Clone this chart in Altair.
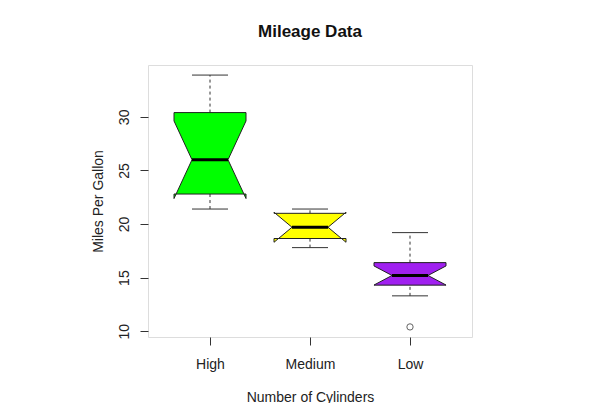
import altair as alt
import pandas as pd

# ---- data ----
groups = ["High", "Medium", "Low"]
positions = [1, 2, 3]
colors = ["#00ff00", "#ffff00", "#a020f0"]
whisker_low = [21.4, 17.8, 13.3]
q1 = [22.8, 18.65, 14.3]
notch_low = [22.38, 18.30, 14.31]
median = [26.0, 19.7, 15.2]
notch_high = [29.62, 21.10, 16.09]
q3 = [30.4, 21.0, 16.4]
whisker_high = [33.9, 21.4, 19.2]
outlier_group = ["Low"]
outlier_value = [10.4]

# ---- geometry constants (style) ----
HW = 0.36      # box half width
NF = 0.5       # notch fraction
SW = 0.18      # staple half width

rows = []
for g, p, a, b, c, d, e in zip(groups, positions, q1, notch_low, median, notch_high, q3):
    ys = [a, b, c, d, e, e, d, c, b, a, a]
    fs = [-1, -1, -NF, -1, -1, 1, 1, NF, 1, 1, -1]
    for i, (yv, f) in enumerate(zip(ys, fs)):
        rows.append({"group": g, "ord": i, "y": yv, "x": p + HW * f})
box_df = pd.DataFrame(rows)

stats_df = pd.DataFrame({
    "group": groups, "pos": positions, "q1": q1, "med": median, "q3": q3,
    "wlo": whisker_low, "whi": whisker_high,
})
stats_df["ml"] = stats_df["pos"] - HW * NF
stats_df["mr"] = stats_df["pos"] + HW * NF
stats_df["sl"] = stats_df["pos"] - SW
stats_df["sr"] = stats_df["pos"] + SW

pos_map = dict(zip(groups, positions))
out_df = pd.DataFrame({"group": outlier_group, "y": outlier_value})
out_df["pos"] = out_df["group"].map(pos_map)

label_expr = " : ".join(
    [f"datum.value == {p} ? '{g}'" for g, p in zip(groups, positions)]
) + " : ''"

FONT = "Liberation Sans"
xscale = alt.Scale(domain=[0.38, 3.62], nice=False, zero=False)
yscale = alt.Scale(domain=[9.46, 34.84], nice=False, zero=False)

x_axis = alt.Axis(values=positions, labelExpr=label_expr, title="Number of Cylinders",
                  grid=False, domain=False, tickSize=8, tickColor="#333",
                  labelPadding=12, titlePadding=19, labelFontSize=14, titleFontSize=14,
                  labelFont=FONT, titleFont=FONT, labelColor="#222", titleColor="#222",
                  titleFontWeight="normal")
y_axis = alt.Axis(values=[10, 15, 20, 25, 30], title="Miles Per Gallon", grid=False,
                  domain=False, tickSize=8, tickColor="#333", labelAngle=270,
                  labelPadding=9, titlePadding=12, labelFontSize=14, titleFontSize=14,
                  labelFont=FONT, titleFont=FONT, labelColor="#222", titleColor="#222",
                  titleFontWeight="normal")

base_s = alt.Chart(stats_df)

whisk_up = base_s.mark_rule(strokeDash=[3, 3], color="#333").encode(
    x=alt.X("pos:Q", scale=xscale, axis=x_axis),
    y=alt.Y("q3:Q", scale=yscale, axis=y_axis), y2="whi:Q")
whisk_dn = base_s.mark_rule(strokeDash=[3, 3], color="#333").encode(
    x=alt.X("pos:Q", scale=xscale), y=alt.Y("wlo:Q", scale=yscale), y2="q1:Q")
staple_up = base_s.mark_rule(color="#333").encode(
    x=alt.X("sl:Q", scale=xscale), x2="sr:Q", y=alt.Y("whi:Q", scale=yscale))
staple_dn = base_s.mark_rule(color="#333").encode(
    x=alt.X("sl:Q", scale=xscale), x2="sr:Q", y=alt.Y("wlo:Q", scale=yscale))

box_layers = []
for g, col in zip(groups, colors):
    box_layers.append(
        alt.Chart(box_df).transform_filter(alt.datum.group == g)
        .mark_line(fill=col, stroke="#222", strokeWidth=1, interpolate="linear")
        .encode(
            x=alt.X("x:Q", scale=xscale),
            y=alt.Y("y:Q", scale=yscale),
            order=alt.Order("ord:Q"),
        )
    )

med = base_s.mark_rule(color="black", strokeWidth=3).encode(
    x=alt.X("ml:Q", scale=xscale), x2="mr:Q", y=alt.Y("med:Q", scale=yscale))

outl = alt.Chart(out_df).mark_point(shape="circle", filled=False, size=40,
                                    color="#222", strokeWidth=1).encode(
    x=alt.X("pos:Q", scale=xscale), y=alt.Y("y:Q", scale=yscale))

chart = alt.layer(whisk_up, whisk_dn, staple_up, staple_dn, *box_layers, med, outl).properties(
    width=324, height=272,
    title=alt.TitleParams("Mileage Data", font=FONT, fontSize=17, fontWeight="bold",
                          color="#111", offset=24, anchor="middle"),
    autosize="none",
    padding={"left": 140, "top": 57, "right": 120, "bottom": 66},
).configure_view(stroke="#444", strokeWidth=1).configure(background="white")

chart.save("out.html", embed_options={"renderer": "svg", "actions": False})
